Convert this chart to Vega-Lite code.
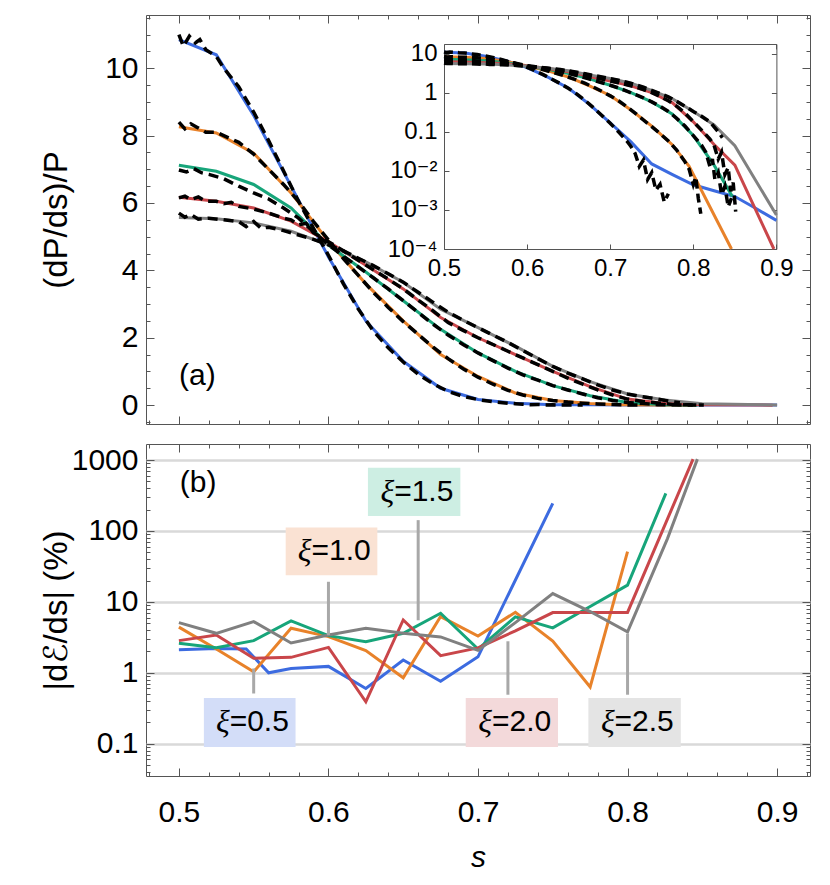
{
 "$schema": "https://vega.github.io/schema/vega-lite/v6.json",
 "padding": {"left": 39, "top": 14, "right": 5, "bottom": 5},
 "spacing": 18,
 "config": {
  "view": {"stroke": "#555", "strokeWidth": 1},
  "axis": {"labelFont": "Liberation Sans, DejaVu Sans", "labelFontSize": 30, "labelColor": "#000", "labelFlush": false, "titleFont": "Liberation Sans, DejaVu Sans", "titleFontSize": 33, "titleFontWeight": "normal", "titleColor": "#000", "domain": false, "grid": false, "tickColor": "#555", "tickWidth": 1},
  "text": {"font": "Liberation Sans", "fontSize": 30}
 },
 "datasets": {
  "th": [
   {"xi":"0.5","s":0.5,"v":10.85},{"xi":"0.5","s":0.525,"v":10.4},{"xi":"0.5","s":0.55,"v":8.6},{"xi":"0.5","s":0.575,"v":6.5},{"xi":"0.5","s":0.6,"v":4.4},{"xi":"0.5","s":0.625,"v":2.5},{"xi":"0.5","s":0.65,"v":1.3},{"xi":"0.5","s":0.675,"v":0.5},{"xi":"0.5","s":0.7,"v":0.17},{"xi":"0.5","s":0.725,"v":0.055},{"xi":"0.5","s":0.75,"v":0.015},{"xi":"0.5","s":0.775,"v":0.008},{"xi":"0.5","s":0.8,"v":0.0044},{"xi":"0.5","s":0.825,"v":0.0031},{"xi":"0.5","s":0.85,"v":0.0022},{"xi":"0.5","s":0.875,"v":0.0011},{"xi":"0.5","s":0.9,"v":0.00054},
   {"xi":"1.0","s":0.5,"v":8.26},{"xi":"1.0","s":0.525,"v":8.08},{"xi":"1.0","s":0.55,"v":7.48},{"xi":"1.0","s":0.575,"v":6.3},{"xi":"1.0","s":0.6,"v":4.86},{"xi":"1.0","s":0.625,"v":3.6},{"xi":"1.0","s":0.65,"v":2.5},{"xi":"1.0","s":0.675,"v":1.5},{"xi":"1.0","s":0.7,"v":0.85},{"xi":"1.0","s":0.725,"v":0.36},{"xi":"1.0","s":0.75,"v":0.14},{"xi":"1.0","s":0.775,"v":0.046},{"xi":"1.0","s":0.795,"v":0.013},{"xi":"1.0","s":0.846,"v":0.0001},
   {"xi":"1.5","s":0.5,"v":7.12},{"xi":"1.5","s":0.525,"v":6.94},{"xi":"1.5","s":0.55,"v":6.55},{"xi":"1.5","s":0.575,"v":5.85},{"xi":"1.5","s":0.6,"v":4.75},{"xi":"1.5","s":0.625,"v":3.95},{"xi":"1.5","s":0.65,"v":3.1},{"xi":"1.5","s":0.675,"v":2.25},{"xi":"1.5","s":0.7,"v":1.55},{"xi":"1.5","s":0.725,"v":1.0},{"xi":"1.5","s":0.75,"v":0.58},{"xi":"1.5","s":0.775,"v":0.28},{"xi":"1.5","s":0.8,"v":0.08},{"xi":"1.5","s":0.825,"v":0.014},{"xi":"1.5","s":0.847,"v":0.0022},
   {"xi":"2.0","s":0.5,"v":6.17},{"xi":"2.0","s":0.525,"v":6.05},{"xi":"2.0","s":0.55,"v":5.85},{"xi":"2.0","s":0.575,"v":5.46},{"xi":"2.0","s":0.6,"v":4.85},{"xi":"2.0","s":0.625,"v":4.15},{"xi":"2.0","s":0.65,"v":3.45},{"xi":"2.0","s":0.675,"v":2.6},{"xi":"2.0","s":0.7,"v":2.0},{"xi":"2.0","s":0.725,"v":1.5},{"xi":"2.0","s":0.75,"v":1.0},{"xi":"2.0","s":0.775,"v":0.55},{"xi":"2.0","s":0.8,"v":0.18},{"xi":"2.0","s":0.825,"v":0.047},{"xi":"2.0","s":0.85,"v":0.014},{"xi":"2.0","s":0.897,"v":0.0001},
   {"xi":"2.5","s":0.5,"v":5.57},{"xi":"2.5","s":0.525,"v":5.53},{"xi":"2.5","s":0.55,"v":5.41},{"xi":"2.5","s":0.575,"v":5.16},{"xi":"2.5","s":0.6,"v":4.76},{"xi":"2.5","s":0.625,"v":4.25},{"xi":"2.5","s":0.65,"v":3.65},{"xi":"2.5","s":0.675,"v":2.85},{"xi":"2.5","s":0.7,"v":2.3},{"xi":"2.5","s":0.725,"v":1.75},{"xi":"2.5","s":0.75,"v":1.15},{"xi":"2.5","s":0.775,"v":0.7},{"xi":"2.5","s":0.8,"v":0.33},{"xi":"2.5","s":0.825,"v":0.15},{"xi":"2.5","s":0.85,"v":0.044},{"xi":"2.5","s":0.9,"v":0.00074}
  ],
  "sim": [
   {"xi":"0.5","s":0.5,"v":11.0},{"xi":"0.5","s":0.503,"v":10.65},{"xi":"0.5","s":0.507,"v":10.95},{"xi":"0.5","s":0.511,"v":10.75},{"xi":"0.5","s":0.514,"v":10.85},{"xi":"0.5","s":0.518,"v":10.55},{"xi":"0.5","s":0.525,"v":10.35},{"xi":"0.5","s":0.53,"v":10.0},{"xi":"0.5","s":0.54,"v":9.45},{"xi":"0.5","s":0.55,"v":8.7},{"xi":"0.5","s":0.56,"v":7.85},{"xi":"0.5","s":0.57,"v":6.95},{"xi":"0.5","s":0.58,"v":6.05},{"xi":"0.5","s":0.59,"v":5.25},{"xi":"0.5","s":0.6,"v":4.45},{"xi":"0.5","s":0.61,"v":3.6},{"xi":"0.5","s":0.62,"v":2.85},{"xi":"0.5","s":0.63,"v":2.2},{"xi":"0.5","s":0.64,"v":1.7},{"xi":"0.5","s":0.65,"v":1.28},{"xi":"0.5","s":0.66,"v":0.92},{"xi":"0.5","s":0.67,"v":0.63},{"xi":"0.5","s":0.68,"v":0.41},{"xi":"0.5","s":0.69,"v":0.26},{"xi":"0.5","s":0.7,"v":0.165},{"xi":"0.5","s":0.71,"v":0.1},{"xi":"0.5","s":0.72,"v":0.058},{"xi":"0.5","s":0.725,"v":0.042},{"xi":"0.5","s":0.73,"v":0.028},{"xi":"0.5","s":0.735,"v":0.013},{"xi":"0.5","s":0.74,"v":0.019},{"xi":"0.5","s":0.745,"v":0.006},{"xi":"0.5","s":0.75,"v":0.009},{"xi":"0.5","s":0.755,"v":0.0032},{"xi":"0.5","s":0.76,"v":0.0045},{"xi":"0.5","s":0.765,"v":0.0016},{"xi":"0.5","s":0.77,"v":0.0026},
   {"xi":"1.0","s":0.5,"v":8.4},{"xi":"1.0","s":0.504,"v":8.2},{"xi":"1.0","s":0.508,"v":8.35},{"xi":"1.0","s":0.512,"v":8.25},{"xi":"1.0","s":0.518,"v":8.1},{"xi":"1.0","s":0.525,"v":8.1},{"xi":"1.0","s":0.53,"v":8.0},{"xi":"1.0","s":0.54,"v":7.8},{"xi":"1.0","s":0.55,"v":7.45},{"xi":"1.0","s":0.56,"v":7.0},{"xi":"1.0","s":0.57,"v":6.55},{"xi":"1.0","s":0.58,"v":6.05},{"xi":"1.0","s":0.59,"v":5.45},{"xi":"1.0","s":0.6,"v":4.9},{"xi":"1.0","s":0.61,"v":4.35},{"xi":"1.0","s":0.62,"v":3.85},{"xi":"1.0","s":0.63,"v":3.35},{"xi":"1.0","s":0.64,"v":2.9},{"xi":"1.0","s":0.65,"v":2.48},{"xi":"1.0","s":0.66,"v":2.1},{"xi":"1.0","s":0.67,"v":1.72},{"xi":"1.0","s":0.68,"v":1.38},{"xi":"1.0","s":0.69,"v":1.08},{"xi":"1.0","s":0.7,"v":0.83},{"xi":"1.0","s":0.71,"v":0.62},{"xi":"1.0","s":0.72,"v":0.44},{"xi":"1.0","s":0.73,"v":0.3},{"xi":"1.0","s":0.74,"v":0.2},{"xi":"1.0","s":0.75,"v":0.135},{"xi":"1.0","s":0.76,"v":0.09},{"xi":"1.0","s":0.77,"v":0.058},{"xi":"1.0","s":0.78,"v":0.034},{"xi":"1.0","s":0.79,"v":0.017},{"xi":"1.0","s":0.795,"v":0.011},{"xi":"1.0","s":0.8,"v":0.0045},{"xi":"1.0","s":0.803,"v":0.007},{"xi":"1.0","s":0.806,"v":0.002},{"xi":"1.0","s":0.809,"v":0.0008},
   {"xi":"1.5","s":0.5,"v":6.98},{"xi":"1.5","s":0.505,"v":6.92},{"xi":"1.5","s":0.51,"v":7.02},{"xi":"1.5","s":0.515,"v":6.9},{"xi":"1.5","s":0.52,"v":6.85},{"xi":"1.5","s":0.53,"v":6.72},{"xi":"1.5","s":0.54,"v":6.5},{"xi":"1.5","s":0.55,"v":6.3},{"xi":"1.5","s":0.56,"v":6.12},{"xi":"1.5","s":0.57,"v":5.85},{"xi":"1.5","s":0.58,"v":5.55},{"xi":"1.5","s":0.59,"v":5.15},{"xi":"1.5","s":0.6,"v":4.76},{"xi":"1.5","s":0.61,"v":4.42},{"xi":"1.5","s":0.62,"v":4.1},{"xi":"1.5","s":0.63,"v":3.78},{"xi":"1.5","s":0.64,"v":3.45},{"xi":"1.5","s":0.65,"v":3.1},{"xi":"1.5","s":0.66,"v":2.75},{"xi":"1.5","s":0.67,"v":2.4},{"xi":"1.5","s":0.68,"v":2.08},{"xi":"1.5","s":0.69,"v":1.8},{"xi":"1.5","s":0.7,"v":1.55},{"xi":"1.5","s":0.71,"v":1.32},{"xi":"1.5","s":0.72,"v":1.1},{"xi":"1.5","s":0.73,"v":0.9},{"xi":"1.5","s":0.74,"v":0.74},{"xi":"1.5","s":0.75,"v":0.58},{"xi":"1.5","s":0.76,"v":0.45},{"xi":"1.5","s":0.77,"v":0.33},{"xi":"1.5","s":0.78,"v":0.22},{"xi":"1.5","s":0.79,"v":0.14},{"xi":"1.5","s":0.8,"v":0.08},{"xi":"1.5","s":0.81,"v":0.045},{"xi":"1.5","s":0.815,"v":0.03},{"xi":"1.5","s":0.82,"v":0.013},{"xi":"1.5","s":0.823,"v":0.02},{"xi":"1.5","s":0.826,"v":0.006},{"xi":"1.5","s":0.83,"v":0.009},{"xi":"1.5","s":0.834,"v":0.0025},{"xi":"1.5","s":0.838,"v":0.004},{"xi":"1.5","s":0.842,"v":0.0012},{"xi":"1.5","s":0.846,"v":0.002},
   {"xi":"2.0","s":0.5,"v":6.15},{"xi":"2.0","s":0.504,"v":6.2},{"xi":"2.0","s":0.508,"v":6.1},{"xi":"2.0","s":0.513,"v":6.18},{"xi":"2.0","s":0.518,"v":6.05},{"xi":"2.0","s":0.525,"v":6.05},{"xi":"2.0","s":0.53,"v":5.98},{"xi":"2.0","s":0.535,"v":6.02},{"xi":"2.0","s":0.54,"v":5.9},{"xi":"2.0","s":0.55,"v":5.82},{"xi":"2.0","s":0.56,"v":5.7},{"xi":"2.0","s":0.57,"v":5.55},{"xi":"2.0","s":0.575,"v":5.5},{"xi":"2.0","s":0.58,"v":5.35},{"xi":"2.0","s":0.585,"v":5.4},{"xi":"2.0","s":0.59,"v":5.12},{"xi":"2.0","s":0.6,"v":4.85},{"xi":"2.0","s":0.61,"v":4.58},{"xi":"2.0","s":0.62,"v":4.3},{"xi":"2.0","s":0.63,"v":4.02},{"xi":"2.0","s":0.64,"v":3.74},{"xi":"2.0","s":0.65,"v":3.45},{"xi":"2.0","s":0.66,"v":3.12},{"xi":"2.0","s":0.67,"v":2.8},{"xi":"2.0","s":0.68,"v":2.45},{"xi":"2.0","s":0.69,"v":2.22},{"xi":"2.0","s":0.7,"v":2.0},{"xi":"2.0","s":0.71,"v":1.8},{"xi":"2.0","s":0.72,"v":1.6},{"xi":"2.0","s":0.73,"v":1.4},{"xi":"2.0","s":0.74,"v":1.2},{"xi":"2.0","s":0.75,"v":1.0},{"xi":"2.0","s":0.76,"v":0.8},{"xi":"2.0","s":0.77,"v":0.62},{"xi":"2.0","s":0.78,"v":0.45},{"xi":"2.0","s":0.79,"v":0.3},{"xi":"2.0","s":0.8,"v":0.18},{"xi":"2.0","s":0.81,"v":0.11},{"xi":"2.0","s":0.82,"v":0.065},{"xi":"2.0","s":0.825,"v":0.045},{"xi":"2.0","s":0.83,"v":0.02},{"xi":"2.0","s":0.834,"v":0.03},{"xi":"2.0","s":0.838,"v":0.008},{"xi":"2.0","s":0.842,"v":0.012},{"xi":"2.0","s":0.845,"v":0.003},{"xi":"2.0","s":0.848,"v":0.005},{"xi":"2.0","s":0.851,"v":0.0009},
   {"xi":"2.5","s":0.5,"v":5.7},{"xi":"2.5","s":0.504,"v":5.58},{"xi":"2.5","s":0.508,"v":5.66},{"xi":"2.5","s":0.513,"v":5.52},{"xi":"2.5","s":0.52,"v":5.55},{"xi":"2.5","s":0.53,"v":5.5},{"xi":"2.5","s":0.54,"v":5.45},{"xi":"2.5","s":0.545,"v":5.3},{"xi":"2.5","s":0.55,"v":5.45},{"xi":"2.5","s":0.555,"v":5.25},{"xi":"2.5","s":0.56,"v":5.28},{"xi":"2.5","s":0.57,"v":5.18},{"xi":"2.5","s":0.58,"v":5.05},{"xi":"2.5","s":0.59,"v":4.92},{"xi":"2.5","s":0.6,"v":4.76},{"xi":"2.5","s":0.61,"v":4.58},{"xi":"2.5","s":0.62,"v":4.36},{"xi":"2.5","s":0.63,"v":4.14},{"xi":"2.5","s":0.64,"v":3.9},{"xi":"2.5","s":0.65,"v":3.65},{"xi":"2.5","s":0.66,"v":3.35},{"xi":"2.5","s":0.67,"v":3.05},{"xi":"2.5","s":0.68,"v":2.76},{"xi":"2.5","s":0.69,"v":2.52},{"xi":"2.5","s":0.7,"v":2.3},{"xi":"2.5","s":0.71,"v":2.08},{"xi":"2.5","s":0.72,"v":1.86},{"xi":"2.5","s":0.73,"v":1.62},{"xi":"2.5","s":0.74,"v":1.38},{"xi":"2.5","s":0.75,"v":1.15},{"xi":"2.5","s":0.76,"v":0.95},{"xi":"2.5","s":0.77,"v":0.78},{"xi":"2.5","s":0.78,"v":0.6},{"xi":"2.5","s":0.79,"v":0.45},{"xi":"2.5","s":0.8,"v":0.33},{"xi":"2.5","s":0.81,"v":0.25},{"xi":"2.5","s":0.82,"v":0.18},{"xi":"2.5","s":0.83,"v":0.1},{"xi":"2.5","s":0.835,"v":0.07}
  ],
  "err": [
   {"xi":"0.5","s":0.5,"v":2.11},{"xi":"0.5","s":0.525,"v":2.2},{"xi":"0.5","s":0.545,"v":2.16},{"xi":"0.5","s":0.56,"v":1.0},{"xi":"0.5","s":0.575,"v":1.15},{"xi":"0.5","s":0.6,"v":1.23},{"xi":"0.5","s":0.625,"v":0.6},{"xi":"0.5","s":0.65,"v":1.51},{"xi":"0.5","s":0.675,"v":0.76},{"xi":"0.5","s":0.7,"v":1.68},{"xi":"0.5","s":0.75,"v":245},
   {"xi":"1.0","s":0.5,"v":4.4},{"xi":"1.0","s":0.525,"v":2.16},{"xi":"1.0","s":0.55,"v":1.03},{"xi":"1.0","s":0.575,"v":4.24},{"xi":"1.0","s":0.6,"v":3.23},{"xi":"1.0","s":0.625,"v":2.05},{"xi":"1.0","s":0.65,"v":0.85},{"xi":"1.0","s":0.675,"v":6.2},{"xi":"1.0","s":0.7,"v":3.3},{"xi":"1.0","s":0.725,"v":7.14},{"xi":"1.0","s":0.75,"v":2.8},{"xi":"1.0","s":0.775,"v":0.63},{"xi":"1.0","s":0.8,"v":51},
   {"xi":"1.5","s":0.5,"v":2.6},{"xi":"1.5","s":0.525,"v":2.26},{"xi":"1.5","s":0.55,"v":2.84},{"xi":"1.5","s":0.575,"v":5.38},{"xi":"1.5","s":0.6,"v":3.34},{"xi":"1.5","s":0.625,"v":2.75},{"xi":"1.5","s":0.65,"v":3.6},{"xi":"1.5","s":0.675,"v":6.9},{"xi":"1.5","s":0.7,"v":2.16},{"xi":"1.5","s":0.725,"v":6.15},{"xi":"1.5","s":0.75,"v":4.3},{"xi":"1.5","s":0.775,"v":8.6},{"xi":"1.5","s":0.8,"v":17.2},{"xi":"1.5","s":0.8256,"v":339},
   {"xi":"2.0","s":0.5,"v":2.84},{"xi":"2.0","s":0.525,"v":3.41},{"xi":"2.0","s":0.55,"v":1.6},{"xi":"2.0","s":0.575,"v":1.65},{"xi":"2.0","s":0.6,"v":2.28},{"xi":"2.0","s":0.625,"v":0.39},{"xi":"2.0","s":0.65,"v":5.56},{"xi":"2.0","s":0.675,"v":1.74},{"xi":"2.0","s":0.7,"v":2.24},{"xi":"2.0","s":0.725,"v":3.9},{"xi":"2.0","s":0.75,"v":7.06},{"xi":"2.0","s":0.775,"v":7.1},{"xi":"2.0","s":0.8,"v":7.1},{"xi":"2.0","s":0.8438,"v":1030},
   {"xi":"2.5","s":0.5,"v":5.1},{"xi":"2.5","s":0.525,"v":3.6},{"xi":"2.5","s":0.55,"v":5.27},{"xi":"2.5","s":0.575,"v":2.63},{"xi":"2.5","s":0.6,"v":3.41},{"xi":"2.5","s":0.625,"v":4.24},{"xi":"2.5","s":0.65,"v":3.6},{"xi":"2.5","s":0.675,"v":3.2},{"xi":"2.5","s":0.7,"v":2.07},{"xi":"2.5","s":0.725,"v":5.1},{"xi":"2.5","s":0.75,"v":13.1},{"xi":"2.5","s":0.775,"v":7.3},{"xi":"2.5","s":0.8,"v":3.78},{"xi":"2.5","s":0.8267,"v":78},{"xi":"2.5","s":0.8467,"v":1030}
  ],
  "lab": [
   {"xi":"0.5","lbl":"=0.5","lx":0.55,"ly1":0.51,"ly2":1.15,"bx1":0.5167,"bx2":0.578,"by1":0.0898,"by2":0.441,"tx":0.5473,"ty":0.199},
   {"xi":"1.0","lbl":"=1.0","lx":0.6,"ly1":3.38,"ly2":19.2,"bx1":0.5714,"bx2":0.6327,"by1":23.8,"by2":112,"tx":0.602,"ty":51.6},
   {"xi":"1.5","lbl":"=1.5","lx":0.66,"ly1":5.5,"ly2":142,"bx1":0.6264,"bx2":0.6882,"by1":162,"by2":780,"tx":0.6573,"ty":355},
   {"xi":"2.0","lbl":"=2.0","lx":0.72,"ly1":0.49,"ly2":2.78,"bx1":0.6918,"bx2":0.7535,"by1":0.0898,"by2":0.441,"tx":0.7227,"ty":0.199},
   {"xi":"2.5","lbl":"=2.5","lx":0.8,"ly1":0.49,"ly2":3.57,"bx1":0.7738,"bx2":0.8356,"by1":0.0898,"by2":0.441,"tx":0.8047,"ty":0.199}
  ]
 },
 "vconcat": [
  {
   "width": 664, "height": 409,
   "resolve": {"scale": {"x": "independent", "y": "independent"}, "axis": {"x": "independent", "y": "independent"}},
   "layer": [
    {
     "data": {"name": "th"},
     "mark": {"type": "line", "strokeWidth": 3},
     "encoding": {
      "x": {"field": "s", "type": "quantitative", "scale": {"domain": [0.478, 0.922], "nice": false, "zero": false},
            "axis": {"orient": "bottom", "values": [0.48,0.5,0.52,0.54,0.56,0.58,0.6,0.62,0.64,0.66,0.68,0.7,0.72,0.74,0.76,0.78,0.8,0.82,0.84,0.86,0.88,0.9,0.92], "labels": false, "title": null,
                     "tickSize": {"condition": {"test": "abs(datum.value*10-round(datum.value*10))<0.001", "value": -8}, "value": -4}}},
      "y": {"field": "v", "type": "quantitative", "scale": {"domain": [-0.56, 11.58], "nice": false, "zero": false},
            "axis": {"orient": "left", "values": [0,2,4,6,8,10], "ticks": false, "labelPadding": 8, "title": "(dP/ds)/P", "titleX": -90, "titleBaseline": "middle"}},
      "color": {"field": "xi", "type": "nominal", "scale": {"domain": ["0.5","1.0","1.5","2.0","2.5"], "range": ["#3c6be0","#e8822a","#17a57a","#c9464a","#808080"]}, "legend": null}
     }
    },
    {
     "data": {"name": "sim"},
     "mark": {"type": "line", "color": "black", "strokeWidth": 3.5, "strokeDash": [10, 6]},
     "encoding": {
      "x": {"field": "s", "type": "quantitative", "scale": {"domain": [0.478, 0.922], "nice": false, "zero": false},
            "axis": {"orient": "top", "values": [0.48,0.5,0.52,0.54,0.56,0.58,0.6,0.62,0.64,0.66,0.68,0.7,0.72,0.74,0.76,0.78,0.8,0.82,0.84,0.86,0.88,0.9,0.92], "labels": false, "title": null,
                     "tickSize": {"condition": {"test": "abs(datum.value*10-round(datum.value*10))<0.001", "value": -8}, "value": -4}}},
      "y": {"field": "v", "type": "quantitative", "scale": {"domain": [-0.56, 11.58], "nice": false, "zero": false},
            "axis": {"orient": "right", "values": [-0.5,0,0.5,1,1.5,2,2.5,3,3.5,4,4.5,5,5.5,6,6.5,7,7.5,8,8.5,9,9.5,10,10.5,11,11.5], "labels": false, "title": null,
                     "tickSize": {"condition": {"test": "abs(datum.value/2-round(datum.value/2))<0.001", "value": -8}, "value": -4}}},
      "detail": {"field": "xi", "type": "nominal"}
     }
    },
    {
     "data": {"values": [{"s": 0.5123, "v": 0.85, "t": "(a)"}]},
     "mark": {"type": "text", "fontSize": 30, "baseline": "middle", "align": "center"},
     "encoding": {
      "x": {"field": "s", "type": "quantitative", "scale": {"domain": [0.478, 0.922], "nice": false, "zero": false}, "axis": null},
      "y": {"field": "v", "type": "quantitative", "scale": {"domain": [-0.56, 11.58], "nice": false, "zero": false},
            "axis": {"orient": "left", "values": [-0.5,0,0.5,1,1.5,2,2.5,3,3.5,4,4.5,5,5.5,6,6.5,7,7.5,8,8.5,9,9.5,10,10.5,11,11.5], "labels": false, "title": null,
                     "tickSize": {"condition": {"test": "abs(datum.value/2-round(datum.value/2))<0.001", "value": -8}, "value": -4}}},
      "text": {"field": "t"}
     }
    },
    {
     "data": {"name": "th"},
     "transform": [{"filter": "datum.v >= 0.0001"}],
     "mark": {"type": "line", "strokeWidth": 3},
     "encoding": {
      "x": {"field": "s", "type": "quantitative", "scale": {"domain": [0.5, 0.9], "range": [298, 630.4], "nice": false, "zero": false},
            "axis": {"orient": "bottom", "offset": -175, "values": [0.5,0.6,0.7,0.8,0.9], "format": ".1f", "domain": true, "domainColor": "#555", "tickSize": -5, "labelPadding": 12, "labelFontSize": 24, "title": null}},
      "y": {"field": "v", "type": "quantitative", "scale": {"type": "log", "domain": [0.0001, 17.6], "range": [234, 29], "nice": false},
            "axis": {"orient": "left", "offset": -298, "values": [0.0001,0.001,0.01,0.1,1,10], "labelExpr": "datum.value < 0.0005 ? '10⁻⁴' : datum.value < 0.005 ? '10⁻³' : datum.value < 0.05 ? '10⁻²' : datum.value < 0.5 ? '0.1' : datum.value < 5 ? '1' : '10'", "domain": true, "domainColor": "#555", "tickSize": -5, "labelPadding": 12, "labelFontSize": 24, "title": null}},
      "color": {"field": "xi", "type": "nominal", "legend": null}
     }
    },
    {
     "data": {"name": "sim"},
     "transform": [{"filter": "datum.v >= 0.0001"}],
     "mark": {"type": "line", "color": "black", "strokeWidth": 3.5, "strokeDash": [9, 5]},
     "encoding": {
      "x": {"field": "s", "type": "quantitative", "scale": {"domain": [0.5, 0.9], "range": [298, 630.4], "nice": false, "zero": false},
            "axis": {"orient": "top", "offset": -29, "values": [0.5,0.6,0.7,0.8,0.9], "labels": false, "domain": true, "domainColor": "#555", "tickSize": -5, "title": null}},
      "y": {"field": "v", "type": "quantitative", "scale": {"type": "log", "domain": [0.0001, 17.6], "range": [234, 29], "nice": false},
            "axis": {"orient": "right", "offset": -33.6, "values": [0.0001,0.001,0.01,0.1,1,10], "labels": false, "domain": true, "domainColor": "#555", "tickSize": -5, "title": null}},
      "detail": {"field": "xi", "type": "nominal"}
     }
    }
   ]
  },
  {
   "width": 664, "height": 332,
   "resolve": {"scale": {"x": "independent", "y": "independent"}, "axis": {"x": "independent", "y": "independent"}},
   "layer": [
    {
     "data": {"name": "err"},
     "mark": {"type": "line", "strokeWidth": 3},
     "encoding": {
      "x": {"field": "s", "type": "quantitative", "scale": {"domain": [0.478, 0.922], "nice": false, "zero": false},
            "axis": {"orient": "bottom", "values": [0.5,0.6,0.7,0.8,0.9], "format": ".1f", "ticks": false, "labelPadding": 21, "labelFontSize": 30, "title": "s", "titleFontStyle": "italic", "titleFontSize": 30, "titlePadding": 15}},
      "y": {"field": "v", "type": "quantitative", "scale": {"type": "log", "domain": [0.035, 1683], "nice": false},
            "axis": {"orient": "left", "values": [0.1,1,10,100,1000], "labelExpr": "datum.value < 0.5 ? '0.1' : format(datum.value, 'd')", "ticks": false, "labelPadding": 8, "grid": true, "gridColor": "#d9d9d9", "gridWidth": 2.5, "title": "|dℰ/ds| (%)", "titleX": -90, "titleBaseline": "middle"}},
      "color": {"field": "xi", "type": "nominal", "scale": {"domain": ["0.5","1.0","1.5","2.0","2.5"], "range": ["#3c6be0","#e8822a","#17a57a","#c9464a","#808080"]}, "legend": null}
     }
    },
    {
     "data": {"name": "lab"},
     "mark": {"type": "rule", "color": "#a8a8a8", "strokeWidth": 3},
     "encoding": {
      "x": {"field": "lx", "type": "quantitative", "scale": {"domain": [0.478, 0.922], "nice": false, "zero": false},
            "axis": {"orient": "bottom", "values": [0.48,0.5,0.52,0.54,0.56,0.58,0.6,0.62,0.64,0.66,0.68,0.7,0.72,0.74,0.76,0.78,0.8,0.82,0.84,0.86,0.88,0.9,0.92], "labels": false, "title": null,
                     "tickSize": {"condition": {"test": "abs(datum.value*10-round(datum.value*10))<0.001", "value": -8}, "value": -4}}},
      "y": {"field": "ly1", "type": "quantitative", "scale": {"type": "log", "domain": [0.035, 1683], "nice": false},
            "axis": {"orient": "left", "values": [0.04,0.05,0.06,0.07,0.08,0.09,0.1,0.2,0.3,0.4,0.5,0.6,0.7,0.8,0.9,1,2,3,4,5,6,7,8,9,10,20,30,40,50,60,70,80,90,100,200,300,400,500,600,700,800,900,1000], "labels": false, "title": null,
                     "tickSize": {"condition": {"test": "abs(log(datum.value)/LN10-round(log(datum.value)/LN10))<0.001", "value": -8}, "value": -4}}},
      "y2": {"field": "ly2"}
     }
    },
    {
     "data": {"name": "lab"},
     "mark": {"type": "rect"},
     "encoding": {
      "x": {"field": "bx1", "type": "quantitative", "scale": {"domain": [0.478, 0.922], "nice": false, "zero": false},
            "axis": {"orient": "top", "values": [0.48,0.5,0.52,0.54,0.56,0.58,0.6,0.62,0.64,0.66,0.68,0.7,0.72,0.74,0.76,0.78,0.8,0.82,0.84,0.86,0.88,0.9,0.92], "labels": false, "title": null,
                     "tickSize": {"condition": {"test": "abs(datum.value*10-round(datum.value*10))<0.001", "value": -8}, "value": -4}}},
      "x2": {"field": "bx2"},
      "y": {"field": "by1", "type": "quantitative", "scale": {"type": "log", "domain": [0.035, 1683], "nice": false},
            "axis": {"orient": "right", "values": [0.04,0.05,0.06,0.07,0.08,0.09,0.1,0.2,0.3,0.4,0.5,0.6,0.7,0.8,0.9,1,2,3,4,5,6,7,8,9,10,20,30,40,50,60,70,80,90,100,200,300,400,500,600,700,800,900,1000], "labels": false, "title": null,
                     "tickSize": {"condition": {"test": "abs(log(datum.value)/LN10-round(log(datum.value)/LN10))<0.001", "value": -8}, "value": -4}}},
      "y2": {"field": "by2"},
      "fill": {"field": "xi", "type": "nominal", "scale": {"domain": ["0.5","1.0","1.5","2.0","2.5"], "range": ["#d3ddf8","#fae2d3","#cdeee3","#f3d9da","#e4e4e4"]}, "legend": null}
     }
    },
    {
     "data": {"name": "lab"},
     "mark": {"type": "text", "font": "Liberation Serif", "fontStyle": "italic", "fontSize": 32, "align": "right", "baseline": "middle", "dx": -20},
     "encoding": {
      "x": {"field": "tx", "type": "quantitative", "scale": {"domain": [0.478, 0.922], "nice": false, "zero": false}, "axis": null},
      "y": {"field": "ty", "type": "quantitative", "scale": {"type": "log", "domain": [0.035, 1683], "nice": false}, "axis": null},
      "text": {"value": "ξ"}
     }
    },
    {
     "data": {"name": "lab"},
     "mark": {"type": "text", "fontSize": 30, "align": "left", "baseline": "middle", "dx": -20},
     "encoding": {
      "x": {"field": "tx", "type": "quantitative", "scale": {"domain": [0.478, 0.922], "nice": false, "zero": false}, "axis": null},
      "y": {"field": "ty", "type": "quantitative", "scale": {"type": "log", "domain": [0.035, 1683], "nice": false}, "axis": null},
      "text": {"field": "lbl"}
     }
    },
    {
     "data": {"values": [{"s": 0.5128, "v": 469, "t": "(b)"}]},
     "mark": {"type": "text", "fontSize": 30, "baseline": "middle", "align": "center"},
     "encoding": {
      "x": {"field": "s", "type": "quantitative", "scale": {"domain": [0.478, 0.922], "nice": false, "zero": false}, "axis": null},
      "y": {"field": "v", "type": "quantitative", "scale": {"type": "log", "domain": [0.035, 1683], "nice": false}, "axis": null},
      "text": {"field": "t"}
     }
    }
   ]
  }
 ]
}
